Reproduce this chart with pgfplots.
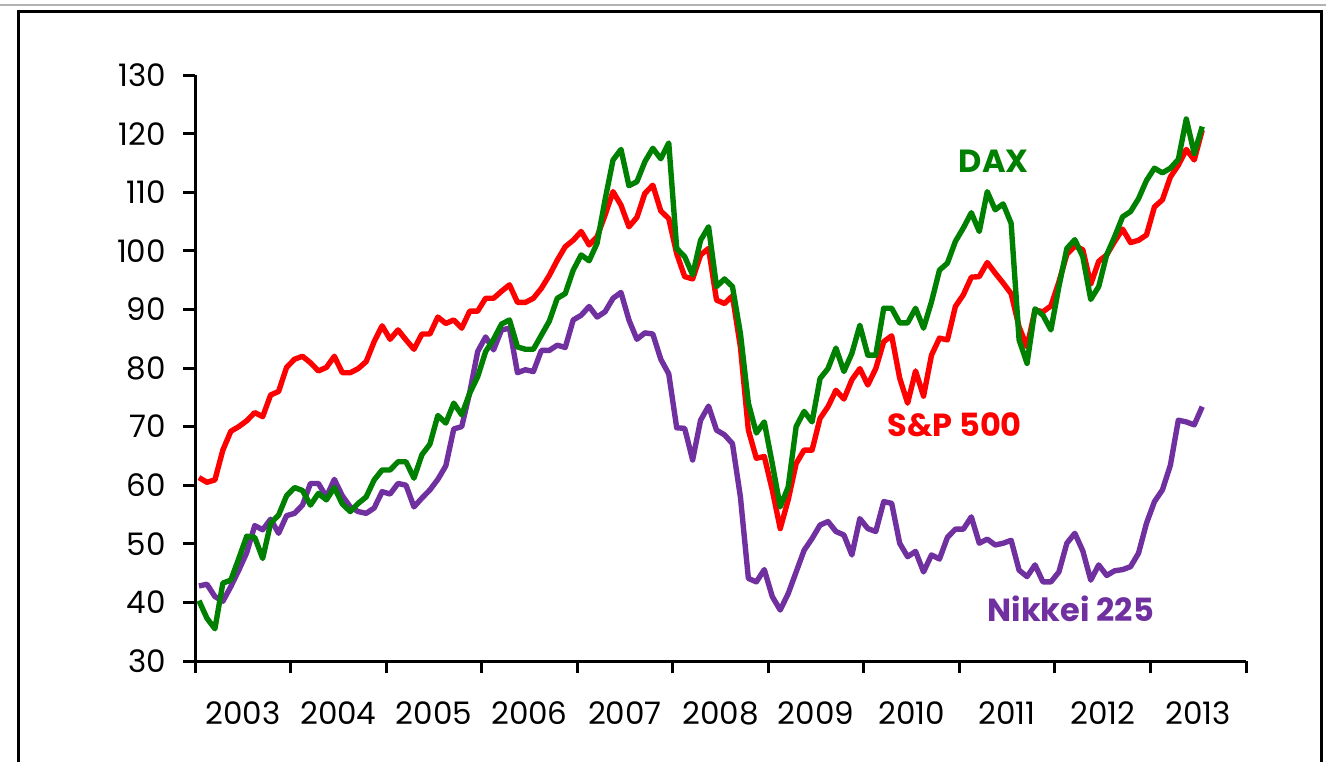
\documentclass[border=0pt]{standalone}
\usepackage{pgfplots}
\pgfplotsset{compat=1.18}
\usepackage{pgfplotstable}
\usepackage{fontspec}
\setmainfont{Poppins}
\definecolor{spred}{HTML}{FF0000}
\definecolor{daxgreen}{HTML}{008000}
\definecolor{nikpurple}{HTML}{7030A0}
\pgfplotstableread{
i sp dax nik
0 61.3 40.3 42.8
1 60.5 37.3 43.1
2 60.9 35.5 41.0
3 66.0 43.3 40.2
4 69.2 43.8 42.7
5 70.0 47.5 45.5
6 71.0 51.3 48.5
7 72.4 51.1 53.1
8 71.7 47.5 52.4
9 75.4 53.5 54.2
10 76.0 54.9 51.8
11 80.1 58.2 54.8
12 81.5 59.6 55.2
13 82.0 59.1 56.6
14 80.9 56.6 60.3
15 79.5 58.6 60.3
16 80.1 57.5 58.0
17 82.0 59.6 61.0
18 79.2 56.8 58.2
19 79.2 55.5 56.3
20 79.9 56.9 55.5
21 81.1 58.0 55.2
22 84.5 60.9 56.1
23 87.2 62.6 58.9
24 84.9 62.6 58.5
25 86.5 64.0 60.3
26 84.8 64.0 60.0
27 83.2 61.2 56.3
28 85.8 65.2 57.8
29 85.8 67.0 59.2
30 88.7 71.9 61.0
31 87.6 70.6 63.3
32 88.2 74.0 69.6
33 86.8 72.0 70.0
34 89.7 75.7 75.8
35 89.7 78.5 82.8
36 91.9 82.8 85.3
37 91.9 84.9 83.1
38 93.1 87.5 86.5
39 94.2 88.2 86.8
40 91.2 83.6 79.2
41 91.2 83.2 79.7
42 91.9 83.2 79.4
43 93.6 85.6 83.0
44 95.8 88.0 83.0
45 98.4 91.9 83.9
46 100.7 92.7 83.5
47 101.8 96.7 88.2
48 103.3 99.3 89.0
49 101.0 98.3 90.5
50 102.4 101.3 88.7
51 106.1 108.7 89.6
52 110.1 115.5 91.9
53 107.8 117.3 92.9
54 104.1 111.1 88.2
55 105.7 111.8 84.9
56 109.8 115.2 86.0
57 111.2 117.5 85.8
58 106.8 115.7 81.5
59 105.5 118.4 79.0
60 99.5 100.4 69.8
61 95.6 99.0 69.7
62 95.2 95.9 64.3
63 99.3 101.8 71.1
64 100.4 104.1 73.5
65 91.6 93.9 69.4
66 91.0 95.2 68.6
67 92.3 93.9 67.1
68 83.6 85.9 58.0
69 69.4 74.0 44.1
70 64.6 68.9 43.5
71 64.9 70.8 45.6
72 59.2 63.7 41.0
73 52.6 56.3 38.7
74 57.5 59.7 41.5
75 63.7 70.0 45.2
76 66.0 72.6 48.9
77 66.0 70.8 50.9
78 71.4 78.2 53.2
79 73.4 79.9 53.8
80 76.2 83.4 52.1
81 74.7 79.4 51.5
82 78.0 82.5 48.1
83 79.9 87.3 54.3
84 77.1 82.2 52.6
85 79.9 82.2 52.1
86 84.5 90.2 57.2
87 85.5 90.2 56.9
88 78.3 87.7 50.1
89 74.0 87.7 47.8
90 79.5 90.2 48.7
91 75.2 86.8 45.2
92 82.2 91.3 48.1
93 85.1 96.7 47.4
94 84.8 97.9 51.1
95 90.5 101.6 52.5
96 92.5 103.9 52.5
97 95.5 106.5 54.6
98 95.6 103.3 50.1
99 98.0 110.1 50.8
100 96.2 107.0 49.8
101 94.5 108.0 50.1
102 92.7 104.7 50.6
103 87.0 84.8 45.5
104 83.6 80.8 44.4
105 89.9 90.1 46.4
106 89.6 89.0 43.5
107 90.6 86.5 43.5
108 94.7 93.9 45.2
109 99.4 100.4 50.1
110 100.8 101.9 51.8
111 100.2 99.0 48.8
112 94.3 91.7 43.8
113 98.2 93.9 46.4
114 99.3 99.3 44.6
115 101.6 102.4 45.4
116 103.7 105.8 45.6
117 101.4 106.7 46.1
118 101.8 108.9 48.4
119 102.7 112.0 53.5
120 107.5 114.1 57.2
121 108.7 113.3 59.2
122 112.6 114.1 63.4
123 114.6 115.6 71.1
124 117.3 122.5 70.8
125 115.5 116.6 70.3
126 120.6 121.2 73.4
}\datatable
\begin{document}
\begin{tikzpicture}
\useasboundingbox (0pt,0pt) rectangle (663pt,-380.5pt);
% outer chart frame (partly cut off)
\draw[black!30, line width=0.6pt] (0pt,-2.5pt) -- (663pt,-2.5pt);
\draw[black, line width=1.5pt] (9pt,-400pt) -- (9pt,-5.5pt) -- (660.5pt,-5.5pt) -- (660.5pt,-400pt);
\begin{axis}[
  at={(97.5pt,-330.5pt)}, anchor=south west,
  scale only axis, width=525.5pt, height=293pt,
  xmin=0, xmax=132, ymin=30, ymax=130,
  axis x line*=bottom, axis y line*=left,
  axis line style={line width=1.5pt},
  every tick/.style={black, line width=1.5pt},
  tick align=outside,
  major tick length=6pt,
  xtick={0,12,...,132},
  xticklabels={2003,2004,2005,2006,2007,2008,2009,2010,2011,2012,2013},
  x tick label as interval,
  ytick={30,40,...,130},
  tick label style={font=\fontsize{15.5}{18}\selectfont},
  /pgf/number format/assume math mode=true,
  yticklabel style={xshift=-5pt},
  xticklabel style={yshift=-11pt},
  clip=false,
]
\addplot[spred, line width=2.7pt, line join=round] table[x expr=\thisrow{i}+0.5, y=sp] {\datatable};
\addplot[nikpurple, line width=2.7pt, line join=round] table[x expr=\thisrow{i}+0.5, y=nik] {\datatable};
\addplot[daxgreen, line width=2.7pt, line join=round] table[x expr=\thisrow{i}+0.5, y=dax] {\datatable};
\node[daxgreen, font=\fontsize{16}{18}\selectfont\bfseries] at (axis cs:100.3,115.2) {DAX};
\node[spred, font=\fontsize{16}{18}\selectfont\bfseries] at (axis cs:95.4,70.3) {S\&P 500};
\node[nikpurple, font=\fontsize{16}{18}\selectfont\bfseries] at (axis cs:110.0,38.9) {Nikkei 225};
\end{axis}
\end{tikzpicture}
\end{document}
